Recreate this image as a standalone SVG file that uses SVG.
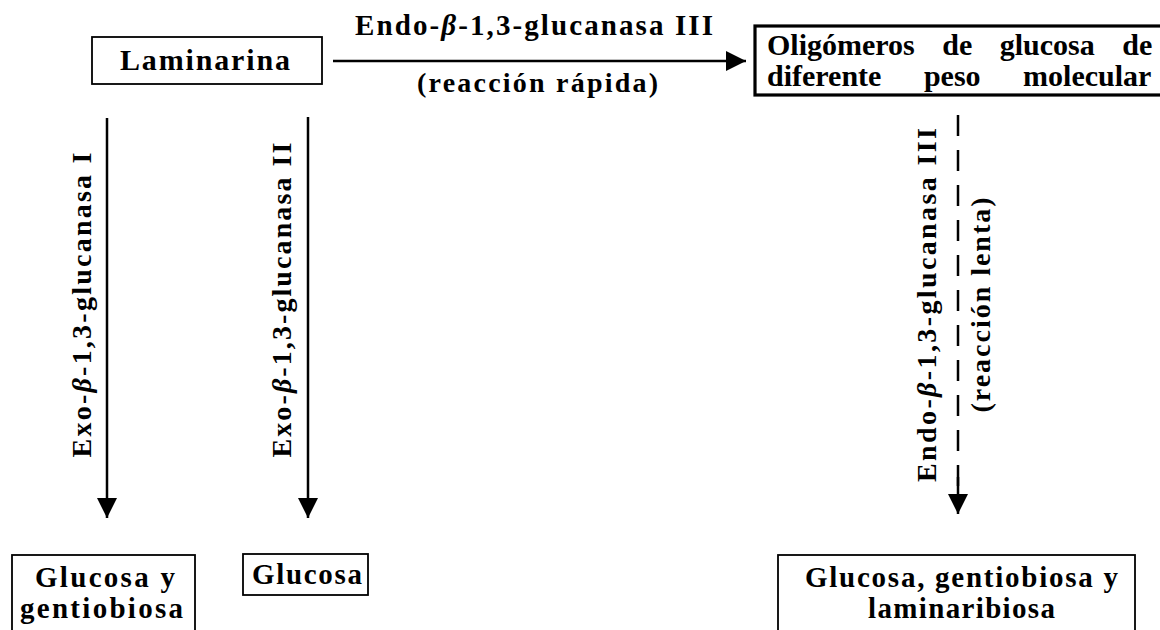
<svg xmlns="http://www.w3.org/2000/svg" width="1160" height="630" viewBox="0 0 1160 630">
<style>
.t{font-family:"Liberation Serif","Times New Roman",serif;font-weight:bold;fill:#000}
.box{fill:#fff;stroke:#000;stroke-width:1.8}
.bbox{fill:#fff;stroke:#000;stroke-width:3.2}
.ln{stroke:#000;stroke-width:2.5;fill:none}
.b{font-style:italic}
</style>
<defs>
<marker id="ah" viewBox="0 0 20 20" refX="20" refY="10" markerWidth="20" markerHeight="20" markerUnits="userSpaceOnUse" orient="auto">
<path d="M0,0 L20,10 L0,20 Z" fill="#000"/>
</marker>
</defs>
<rect width="1160" height="630" fill="#fff"/>

<g id="laminarina">
<rect class="box" x="92" y="37" width="230" height="47"/>
<text class="t" x="120" y="70" font-size="30" textLength="170" lengthAdjust="spacing">Laminarina</text>
</g>

<g id="oligomeros">
<rect class="bbox" x="755" y="26" width="410" height="69"/>
<text class="t" x="767" y="55" font-size="30" word-spacing="20">Oligómeros de glucosa de</text>
<text class="t" x="767" y="86" font-size="30" word-spacing="35">diferente peso molecular</text>
</g>

<g id="glucosa-gentiobiosa">
<rect class="box" x="12" y="555" width="183" height="80"/>
<text class="t" x="35" y="587" font-size="29" textLength="140" lengthAdjust="spacing">Glucosa y</text>
<text class="t" x="20" y="618" font-size="29" textLength="163" lengthAdjust="spacing">gentiobiosa</text>
</g>

<g id="glucosa">
<rect class="box" x="243" y="554" width="125" height="41"/>
<text class="t" x="252" y="584" font-size="29" textLength="110" lengthAdjust="spacing">Glucosa</text>
</g>

<g id="glucosa-gentiobiosa-laminaribiosa">
<rect class="box" x="778" y="555" width="357" height="80"/>
<text class="t" x="805" y="587" font-size="29" textLength="313" lengthAdjust="spacing">Glucosa, gentiobiosa y</text>
<text class="t" x="868" y="618" font-size="29" textLength="187" lengthAdjust="spacing">laminaribiosa</text>
</g>

<g id="connectors">
<line class="ln" x1="333" y1="61" x2="746" y2="61" marker-end="url(#ah)"/>
<text class="t" x="355" y="35" font-size="29" textLength="358" lengthAdjust="spacing">Endo-<tspan class="b">β</tspan>-1,3-glucanasa III</text>
<text class="t" x="417" y="92" font-size="28" textLength="241" lengthAdjust="spacing">(reacción rápida)</text>

<line class="ln" x1="107" y1="118" x2="107" y2="518" marker-end="url(#ah)"/>
<text class="t" transform="translate(91,305) rotate(-90)" font-size="28" text-anchor="middle" textLength="305" lengthAdjust="spacing">Exo-<tspan class="b">β</tspan>-1,3-glucanasa I</text>

<line class="ln" x1="308" y1="117" x2="308" y2="518" marker-end="url(#ah)"/>
<text class="t" transform="translate(291,300) rotate(-90)" font-size="28" text-anchor="middle" textLength="315" lengthAdjust="spacing">Exo-<tspan class="b">β</tspan>-1,3-glucanasa II</text>

<line class="ln" x1="958" y1="115" x2="958" y2="496" stroke-dasharray="21 14"/>
<line class="ln" x1="958" y1="477" x2="958" y2="514" marker-end="url(#ah)"/>
<text class="t" transform="translate(936,305) rotate(-90)" font-size="28" text-anchor="middle" textLength="354" lengthAdjust="spacing">Endo-<tspan class="b">β</tspan>-1,3-glucanasa III</text>
<text class="t" transform="translate(990,305) rotate(-90)" font-size="28" text-anchor="middle" textLength="215" lengthAdjust="spacing">(reacción lenta)</text>
</g>
</svg>
